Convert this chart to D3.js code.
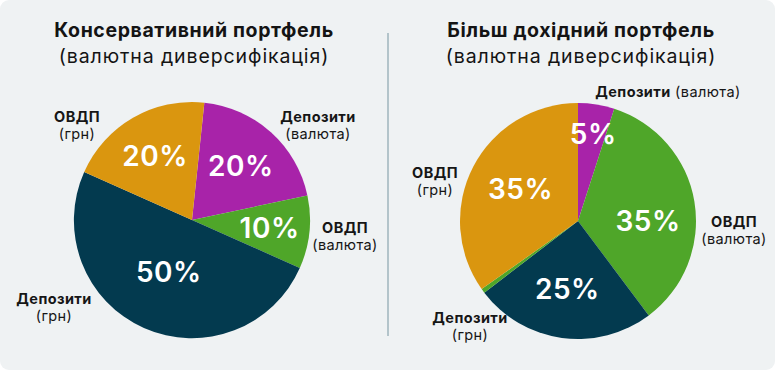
<!DOCTYPE html>
<html>
<head>
<meta charset="utf-8">
<script src="https://cdn.jsdelivr.net/npm/d3@7"></script>
<style>
  html, body { margin: 0; padding: 0; background: #ffffff; }
  svg { display: block; font-family: Inter, "Noto Sans", sans-serif; }
</style>
</head>
<body>
<div id="chart"></div>
<script>
// categories (name in bold + note in brackets)
const categories = ["depVal", "ovdpVal", "depUah", "ovdpSliver", "ovdpUah"];
const categoryNames = ["Депозити", "ОВДП", "Депозити", "", "ОВДП"];
const categoryNotes = ["(валюта)", "(валюта)", "(грн)", "", "(грн)"];

// Conservative portfolio
const leftTitle = "Консервативний портфель";
const leftCats = ["depVal", "ovdpVal", "depUah", "ovdpUah"];
const leftValues = [20, 10, 50, 20];

// Higher-yield portfolio
const rightTitle = "Більш дохідний портфель";
const rightCats = ["depVal", "ovdpVal", "depUah", "ovdpSliver", "ovdpUah"];
const rightValues = [5, 35, 25, 0.6, 35];

const subtitle = "(валютна диверсифікація)";

const width = 775, height = 370;

const color = d3.scaleOrdinal()
	.domain(categories)
	.range(["#a823a9", "#4fa629", "#033a4f", "#4fa629", "#da960f"]);

const svg = d3.select("#chart").append("svg")
	.attr("width", width)
	.attr("height", height);

// card
svg.append("rect")
	.attr("width", width)
	.attr("height", height)
	.attr("rx", 9)
	.attr("fill", "#eff2f3");

// divider
svg.append("line")
	.attr("x1", 388).attr("x2", 388)
	.attr("y1", 33).attr("y2", 336)
	.attr("stroke", "#b3c4ca")
	.attr("stroke-width", 2);

// layout of each pie: centre, radius, start angle, where labels go
const charts = [
	{
		title: leftTitle, cats: leftCats, values: leftValues,
		titleX: 194, cx: 192, cy: 220, r: 118, start: 6,
		pctR: [73, 78, 57, 74], pctNudge: [0, 0, 0, 0],
		labels: {
			depVal: {x: 126, y: -98, inline: false},
			ovdpVal: {x: 153, y: 13, inline: false},
			depUah: {x: -138, y: 84, inline: false},
			ovdpUah: {x: -115, y: -98, inline: false}
		}
	},
	{
		title: rightTitle, cats: rightCats, values: rightValues,
		titleX: 581, cx: 578, cy: 221, r: 118, start: 0,
		pctR: [88, 70, 69, 0, 66], pctNudge: [1, 9, 1, 0, 2],
		labels: {
			depVal: {x: 90, y: -124, inline: true},
			ovdpVal: {x: 156, y: 6, inline: false},
			depUah: {x: -108, y: 102, inline: false},
			ovdpUah: {x: -143, y: -43, inline: false}
		}
	}
];

charts.forEach(c => {
	const g = svg.append("g");

	g.append("text")
		.attr("x", c.titleX).attr("y", 37)
		.attr("text-anchor", "middle")
		.attr("font-size", 19.5).attr("font-weight", 700)
		.attr("letter-spacing", 0.6)
		.attr("fill", "#141414")
		.text(c.title);

	g.append("text")
		.attr("x", c.titleX).attr("y", 63)
		.attr("text-anchor", "middle")
		.attr("font-size", 19.5).attr("font-weight", 400)
		.attr("letter-spacing", 0.9)
		.attr("fill", "#141414")
		.text(subtitle);

	const data = c.cats.map((k, i) => ({key: k, value: c.values[i]}));

	const pie = d3.pie()
		.sort(null)
		.value(d => d.value)
		.startAngle(c.start * Math.PI / 180)
		.endAngle(c.start * Math.PI / 180 + 2 * Math.PI);

	const arcs = pie(data);
	const arc = d3.arc().innerRadius(0).outerRadius(c.r);

	const pg = g.append("g")
		.attr("transform", `translate(${c.cx},${c.cy})`);

	pg.selectAll("path")
		.data(arcs)
		.join("path")
		.attr("d", arc)
		.attr("fill", d => color(d.data.key));

	// percentages inside slices
	pg.selectAll("text.pct")
		.data(arcs.filter(d => d.data.value >= 1))
		.join("text")
		.attr("class", "pct")
		.attr("transform", d => {
			const i = arcs.indexOf(d);
			const a = (d.startAngle + d.endAngle) / 2 + c.pctNudge[i] * Math.PI / 180;
			const rr = c.pctR[i];
			return `translate(${rr * Math.sin(a)},${-rr * Math.cos(a)})`;
		})
		.attr("dy", "0.36em")
		.attr("text-anchor", "middle")
		.attr("font-size", 28).attr("font-weight", 600)
		.attr("letter-spacing", 0.5)
		.attr("fill", "#ffffff")
		.text(d => d.data.value + "%");

	// category labels around the pie
	Object.entries(c.labels).forEach(([k, p]) => {
		const idx = categories.indexOf(k);
		if (p.inline) {
			const t = pg.append("text")
				.attr("x", p.x).attr("y", p.y)
				.attr("text-anchor", "middle")
				.attr("font-size", 14.5)
				.attr("letter-spacing", 0.4)
				.attr("fill", "#161616");
			t.append("tspan").attr("font-weight", 700).text(categoryNames[idx]);
			t.append("tspan").attr("font-weight", 400).text(" " + categoryNotes[idx]);
		} else {
			pg.append("text")
				.attr("x", p.x).attr("y", p.y)
				.attr("text-anchor", "middle")
				.attr("font-size", 14.5).attr("font-weight", 700)
				.attr("letter-spacing", 0.4)
				.attr("fill", "#161616")
				.text(categoryNames[idx]);
			pg.append("text")
				.attr("x", p.x).attr("y", p.y + 17)
				.attr("text-anchor", "middle")
				.attr("font-size", 14.5).attr("font-weight", 400)
				.attr("letter-spacing", 0.4)
				.attr("fill", "#161616")
				.text(categoryNotes[idx]);
		}
	});
});
</script>
</body>
</html>
